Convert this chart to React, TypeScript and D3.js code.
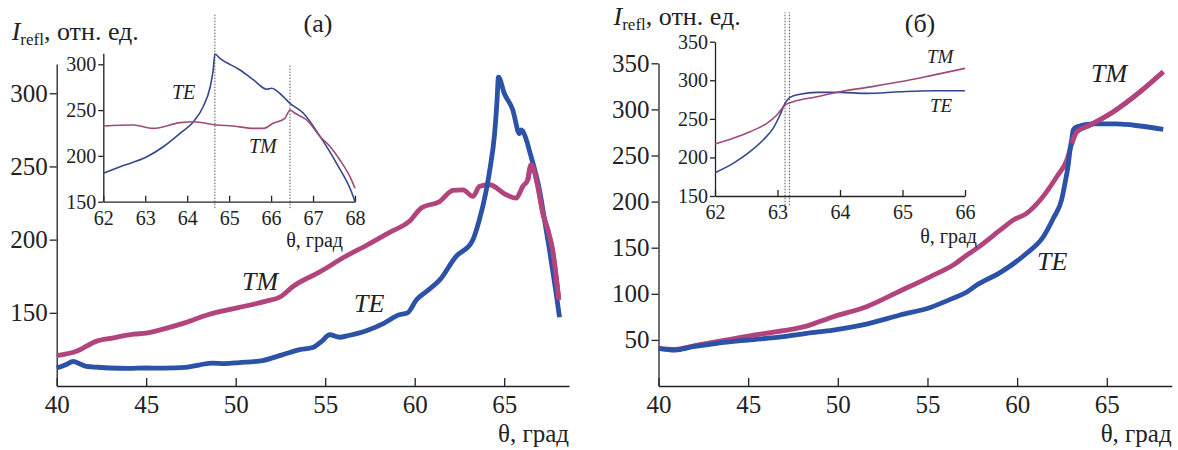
import React, { useEffect, useRef } from 'react';
import * as d3 from 'd3';

// angle in degrees, intensity in rel. units
const teMainA: [number, number][] = [
  [40, 112.3], [40.5, 114.5], [40.93, 116.8], [41.3, 115], [41.67, 113.4], [42.3, 112.8], [42.97, 112.3],
  [44, 112], [45, 112.3], [46, 112.2], [47.2, 112.7], [48, 114.5], [48.7, 115.6], [49.4, 115.3], [50.2, 116],
  [51.5, 117.4], [52.6, 121.3], [53.58, 124.8], [54.3, 126.3], [54.8, 130.5], [55.25, 135], [55.8, 133.3],
  [56.3, 134.5], [57.3, 137.8], [58.3, 143], [59.1, 148.5], [59.6, 150], [60.1, 158.9], [60.7, 165],
  [61.4, 172.5], [62.3, 188.4], [63.2, 198.6], [63.6, 213], [63.97, 232], [64.2, 248], [64.46, 272],
  [64.6, 295], [64.68, 311], [65.0, 300], [65.48, 288.6], [65.85, 272.5], [65.95, 275], [66.04, 274],
  [66.5, 256.8], [66.97, 234], [67.34, 207], [67.53, 193], [67.9, 163.4], [68.09, 147],
];
const tmMainA: [number, number][] = [
  [40, 120.7], [41.1, 123.7], [42.2, 130.5], [43.1, 132.7], [44.3, 135.4], [45, 136.1], [46.1, 139.4],
  [47.2, 143.3], [48.4, 148.5], [49.1, 150.8], [50.2, 153.7], [51.7, 158], [52.5, 161], [53.2, 168],
  [54.7, 178], [56.2, 189], [57.3, 196], [58.6, 205], [59.7, 212.5], [60.37, 221.6], [61.4, 226.1],
  [62.13, 233.6], [62.7, 234], [63.25, 229.5], [63.62, 236.4], [64.18, 237.5], [65.11, 230.7],
  [65.67, 228.4], [66.04, 236.4], [66.32, 241], [66.51, 251.2], [66.88, 236.4], [67.16, 218],
  [67.43, 206.8], [67.7, 193], [68.05, 159],
];
const teInsetA: [number, number][] = [
  [62, 181], [62.4, 188.2], [63.04, 199], [63.43, 210], [63.83, 224.7], [64.15, 237.3], [64.38, 253.7],
  [64.54, 273.8], [64.62, 293.8], [64.66, 311.2], [64.78, 306.5], [65.26, 293.8], [65.58, 282.9],
  [65.9, 272.7], [66.01, 273.8], [66.29, 264.6], [66.45, 257.4], [66.77, 246.5], [67.17, 221],
  [67.56, 191.9], [67.96, 155.5], [68, 150],
];
const tmInsetA: [number, number][] = [
  [62, 232.6], [62.72, 233.7], [63.19, 230], [63.83, 236.3], [64.15, 237.3], [64.7, 233.7], [65.1, 232.6],
  [65.58, 230], [65.82, 230], [66.05, 235.6], [66.33, 241], [66.45, 250.1], [66.57, 246.5], [66.85, 239.2],
  [67.17, 221], [67.41, 210], [67.64, 195.5], [67.88, 177.3], [68, 164.6],
];

const teMainB: [number, number][] = [
  [40, 40.9], [40.92, 39], [41.94, 42.6], [43.25, 46.3], [45, 49.9], [46.96, 53.5], [48.26, 57.2],
  [49.75, 60.7], [51.6, 67.2], [53.47, 77], [55.2, 85.5], [56.4, 95], [57.2, 102], [57.75, 109.5],
  [59.05, 123], [60.53, 143.9], [61.46, 161.9], [62.02, 182], [62.48, 202], [62.67, 220], [62.85, 240],
  [62.95, 256], [63.05, 268], [63.13, 277.7], [63.3, 281], [64.24, 284.2], [65.55, 284.2], [66.85, 282],
  [68.15, 278.4],
];
const tmMainB: [number, number][] = [
  [40, 40.9], [40.92, 39.7], [41.94, 43.4], [43.25, 48.1], [45, 54.2], [46.96, 60], [48.26, 65],
  [49.75, 75.2], [51.6, 86], [53.47, 103], [55.2, 119], [56.44, 131.2], [57.2, 142], [57.75, 149.3],
  [59.05, 169], [59.79, 180], [60.53, 187.3], [61.3, 202], [62.21, 227], [62.77, 245], [63.05, 263],
  [63.32, 275.8], [64.06, 283], [65.37, 297.5], [66.85, 319], [68.15, 340.9],
];
const teInsetB: [number, number][] = [
  [62, 180.2], [62.29, 192.3], [62.56, 207.4], [62.77, 222.5], [62.93, 237.7], [63.04, 255], [63.12, 270],
  [63.2, 277.8], [63.36, 282], [63.63, 284.3], [64.0, 284.3], [64.43, 283], [64.96, 285.1], [65.49, 286.4],
  [66, 286.4],
];
const tmInsetB: [number, number][] = [
  [62, 217.4], [62.29, 224.7], [62.56, 233.3], [62.83, 244.2], [62.99, 255], [63.12, 267.9], [63.25, 272.2],
  [63.63, 278.6], [64.0, 285.1], [64.43, 290.8], [64.96, 298], [65.49, 306.7], [66, 315.4],
];

// dotted markers in the insets: angle, from, to (inset units)
const refLinesA: [number, number, number][] = [[64.66, 143, 354], [66.45, 143, 299]];
const refLinesB: [number, number, number][] = [[63.12, 138, 388], [63.19, 138, 388]];

const mainXTicks = [40, 45, 50, 55, 60, 65];
const mainYTicksA = [150, 200, 250, 300];
const mainYTicksB = [50, 100, 150, 200, 250, 300, 350];
const insetXTicksA = [62, 63, 64, 65, 66, 67, 68];
const insetXTicksB = [62, 63, 64, 65, 66];
const insetYTicksA = [150, 200, 250, 300];
const insetYTicksB = [150, 200, 250, 300, 350];

const FONT = 'Liberation Serif, Times New Roman, serif';
const INK = '#222';
const TE_COL = '#2b52a6';
const TM_COL = '#b2447d';
const TE_IN = '#34478c';
const TM_IN = '#a04a79';

const App = () => {
  const svgRef = useRef<SVGSVGElement>(null);

  useEffect(() => {
    document.body.style.margin = '0';
    drawChart();
  }, []);

  const styleAxis = (g: any, size: number) => {
    g.attr('font-family', FONT).attr('font-size', size);
    g.selectAll('text').attr('fill', INK).style('font-family', FONT);
    g.selectAll('line').attr('stroke', INK).attr('stroke-width', 1.3);
    g.selectAll('path').attr('stroke', INK).attr('stroke-width', 1.3);
  };

  const drawPanel = (svg: any, p: any) => {
    const x = d3.scaleLinear().domain([40, 68.62]).range([p.left, p.right]);
    const y = d3.scaleLinear().domain(p.yDomain).range([386, p.top]);

    const gx = svg.append('g').attr('transform', 'translate(0,386)')
      .call(d3.axisBottom(x).tickValues(mainXTicks).tickSizeInner(-8).tickSizeOuter(0).tickPadding(9).tickFormat(d3.format('d')));
    styleAxis(gx, 25);
    const gy = svg.append('g').attr('transform', `translate(${p.left},0)`)
      .call(d3.axisLeft(y).tickValues(p.yTicks).tickSizeInner(7).tickSizeOuter(0).tickPadding(2).tickFormat(d3.format('d')));
    styleAxis(gy, 25);

    const line = d3.line<[number, number]>().x((d) => x(d[0])).y((d) => y(d[1])).curve(d3.curveMonotoneX);
    svg.append('path').datum(p.tm).attr('d', line).attr('fill', 'none')
      .attr('stroke', TM_COL).attr('stroke-width', 4.8).attr('stroke-linejoin', 'round');
    svg.append('path').datum(p.te).attr('d', line).attr('fill', 'none')
      .attr('stroke', TE_COL).attr('stroke-width', 4.8).attr('stroke-linejoin', 'round');
    // TM is drawn over TE where the two curves merge
    svg.append('path').datum(p.tm.filter((d: [number, number]) => d[0] > p.tmTopFrom)).attr('d', line).attr('fill', 'none')
      .attr('stroke', TM_COL).attr('stroke-width', 4.8).attr('stroke-linejoin', 'round');

    // inset
    const ins = p.inset;
    const xi = d3.scaleLinear().domain(ins.xDomain).range([ins.left, ins.right]);
    const yi = d3.scaleLinear().domain(ins.yDomain).range([ins.bottom, ins.top]);

    svg.append('g').selectAll('line').data(ins.refs).enter().append('line')
      .attr('x1', (d: number[]) => xi(d[0])).attr('x2', (d: number[]) => xi(d[0]))
      .attr('y1', (d: number[]) => yi(d[1])).attr('y2', (d: number[]) => yi(d[2]))
      .attr('stroke', '#555').attr('stroke-width', 1).attr('stroke-dasharray', '1.5,1.5');

    const gxi = svg.append('g').attr('transform', `translate(0,${ins.bottom})`)
      .call(d3.axisBottom(xi).tickValues(ins.xTicks).tickSizeInner(-6).tickSizeOuter(0).tickPadding(9).tickFormat(d3.format('d')));
    styleAxis(gxi, 20);
    const gyi = svg.append('g').attr('transform', `translate(${ins.left},0)`)
      .call(d3.axisLeft(yi).tickValues(ins.yTicks).tickSizeInner(5).tickSizeOuter(0).tickPadding(2).tickFormat(d3.format('d')));
    styleAxis(gyi, 20);

    const li = d3.line<[number, number]>().x((d) => xi(d[0])).y((d) => yi(d[1])).curve(d3.curveMonotoneX);
    svg.append('path').datum(ins.te).attr('d', li).attr('fill', 'none').attr('stroke', TE_IN).attr('stroke-width', 1.6);
    svg.append('path').datum(ins.tm).attr('d', li).attr('fill', 'none').attr('stroke', TM_IN).attr('stroke-width', 1.6);

    // texts
    const t = svg.append('g').attr('font-family', FONT).attr('fill', INK);
    t.append('text').attr('x', p.right).attr('y', 442).attr('text-anchor', 'end').attr('font-size', 25).text('θ, град');
    t.append('text').attr('x', ins.thetaX).attr('y', ins.thetaY).attr('text-anchor', 'end').attr('font-size', 20).text('θ, град');
    t.append('text').attr('x', p.tag[0]).attr('y', p.tag[1]).attr('text-anchor', 'middle').attr('font-size', 26).text(p.tagText);

    const yl = t.append('text').attr('x', p.left - 45).attr('y', p.yLabelY).attr('font-size', 26);
    yl.append('tspan').attr('font-style', 'italic').text('I');
    yl.append('tspan').attr('font-size', 17).attr('dy', 5).text('refl');
    yl.append('tspan').attr('dy', -5).text(', отн. ед.');

    p.labels.forEach((l: any) => {
      t.append('text').attr('x', l.x).attr('y', l.y).attr('font-size', l.size)
        .attr('font-style', 'italic').text(l.text);
    });
  };

  const drawChart = () => {
    const svg = d3.select(svgRef.current);
    svg.selectAll('*').remove();

    drawPanel(svg, {
      left: 56.7, right: 569, top: 64, yDomain: [100, 320], yTicks: mainYTicksA,
      te: teMainA, tm: tmMainA, tmTopFrom: 66.2, yLabelY: 40,
      tag: [318, 32], tagText: '(а)',
      labels: [
        { text: 'TM', x: 242, y: 290, size: 26 },
        { text: 'TE', x: 354, y: 312, size: 26 },
        { text: 'TE', x: 172, y: 99, size: 20 },
        { text: 'TM', x: 249, y: 153, size: 20 },
      ],
      inset: {
        left: 103.3, right: 355, bottom: 201.7, top: 53.3, xDomain: [62, 68], yDomain: [150, 312],
        xTicks: insetXTicksA, yTicks: insetYTicksA, te: teInsetA, tm: tmInsetA, refs: refLinesA,
        thetaX: 343, thetaY: 247,
      },
    });

    drawPanel(svg, {
      left: 658.5, right: 1171.7, top: 63.3, yDomain: [0, 350], yTicks: mainYTicksB,
      te: teMainB, tm: tmMainB, tmTopFrom: 62.9, yLabelY: 25,
      tag: [920, 32], tagText: '(б)',
      labels: [
        { text: 'TM', x: 1091, y: 82, size: 26 },
        { text: 'TE', x: 1037, y: 270, size: 26 },
        { text: 'TM', x: 927, y: 63, size: 19 },
        { text: 'TE', x: 930, y: 112, size: 19 },
      ],
      inset: {
        left: 715, right: 965, bottom: 196, top: 41.7, xDomain: [62, 66], yDomain: [150, 350],
        xTicks: insetXTicksB, yTicks: insetYTicksB, te: teInsetB, tm: tmInsetB, refs: refLinesB,
        thetaX: 977, thetaY: 243,
      },
    });
  };

  return <svg ref={svgRef} width={1178} height={450} style={{ display: 'block', background: '#fff' }}></svg>;
};

export default App;
